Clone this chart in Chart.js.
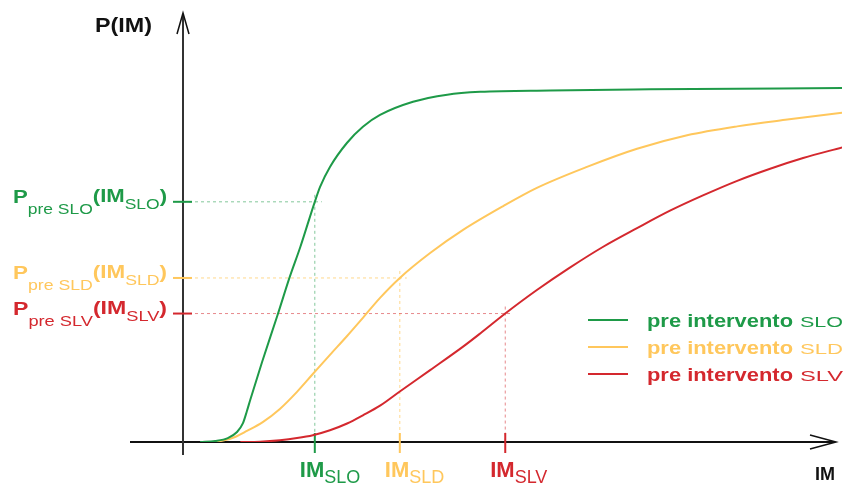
<!DOCTYPE html>
<html>
<head>
<meta charset="utf-8">
<script src="https://cdn.jsdelivr.net/npm/chart.js@4.4.0/dist/chart.umd.min.js"></script>
<style>
  html, body { margin: 0; padding: 0; background: #fff; }
  canvas { display: block; }
</style>
</head>
<body>
<canvas id="fragilityChart" width="844" height="488"></canvas>
<script>
const limitStates = ['SLO', 'SLD', 'SLV'];
const legendPrefix = 'pre intervento';
const yAxisTitle = 'P(IM)';
const xAxisTitle = 'IM';

// IM values and exceedance probabilities
const imSLO = [0.26, 0.49, 0.68, 0.82, 0.91, 0.97, 1.02, 1.20, 1.43, 1.62, 1.78, 2.00, 2.08, 2.23, 2.49, 2.73, 2.99, 3.49, 4.01, 4.51, 5.57, 7.09, 10];
const pSLO  = [0, 0.003, 0.011, 0.028, 0.053, 0.087, 0.118, 0.225, 0.354, 0.464, 0.548, 0.675, 0.717, 0.773, 0.841, 0.886, 0.919, 0.956, 0.976, 0.984, 0.988, 0.991, 0.995];

const imSLD = [0.46, 0.61, 0.79, 0.97, 1.21, 1.47, 1.73, 1.97, 2.23, 2.49, 2.73, 2.99, 3.29, 3.75, 4.25, 4.86, 5.37, 6.13, 6.89, 7.65, 8.41, 9.17, 10];
const pSLD  = [0, 0.004, 0.014, 0.031, 0.056, 0.093, 0.141, 0.191, 0.245, 0.298, 0.349, 0.405, 0.461, 0.531, 0.596, 0.663, 0.714, 0.773, 0.824, 0.862, 0.887, 0.906, 0.925];

const imSLV = [0.87, 1.17, 1.47, 1.73, 1.97, 2.23, 2.49, 2.73, 2.99, 3.29, 3.75, 4.25, 4.51, 4.89, 5.37, 5.87, 6.37, 6.89, 7.39, 7.89, 8.41, 8.91, 9.41, 10];
const pSLV  = [0, 0.001, 0.005, 0.011, 0.019, 0.033, 0.052, 0.075, 0.102, 0.142, 0.202, 0.268, 0.305, 0.361, 0.427, 0.490, 0.548, 0.601, 0.650, 0.693, 0.734, 0.768, 0.798, 0.828];

// IM_x and P_pre(IM_x) marked on the axes
const imMarks = [2.0, 3.29, 4.89];
const pMarks  = [0.675, 0.461, 0.361];

const lineColors  = ['#1e9a48', '#ffc75c', '#d4282e'];
const guideColors = ['rgba(30,154,72,0.55)', 'rgba(255,199,92,0.7)', 'rgba(212,40,46,0.55)'];
const FONT = '"Liberation Sans", Arial, sans-serif';

const curves = [[imSLO, pSLO], [imSLD, pSLD], [imSLV, pSLV]];

function runsWidth(ctx, runs) {
    let w = 0;
    runs.forEach(r => { ctx.font = r[1]; w += ctx.measureText(r[0]).width; });
    return w;
}

// draws text pieces side by side, stretched horizontally to width w
function drawRuns(ctx, runs, x, y, w) {
    const sx = w ? w / runsWidth(ctx, runs) : 1;
    ctx.save();
    ctx.translate(x, y);
    ctx.scale(sx, 1);
    let cx = 0;
    runs.forEach(r => {
        ctx.font = r[1];
        ctx.fillText(r[0], cx, r[2]);
        cx += ctx.measureText(r[0]).width;
    });
    ctx.restore();
}

function line(ctx, x1, y1, x2, y2) {
    ctx.beginPath();
    ctx.moveTo(x1, y1);
    ctx.lineTo(x2, y2);
    ctx.stroke();
}

const decor = {
    id: 'decor',
    beforeDatasetsDraw(chart) {
        const ctx = chart.ctx;
        const xs = chart.scales.x, ys = chart.scales.y;
        const x0 = xs.getPixelForValue(0), y0 = ys.getPixelForValue(0);
        ctx.save();
        // guides
        ctx.lineWidth = 1;
        ctx.setLineDash([3, 3]);
        limitStates.forEach((s, i) => {
            const gx = xs.getPixelForValue(imMarks[i]);
            const gy = ys.getPixelForValue(pMarks[i]);
            ctx.strokeStyle = guideColors[i];
            line(ctx, x0, gy, gx + 7, gy);
            line(ctx, gx, gy - 7, gx, y0);
        });
        ctx.setLineDash([]);
        // axes
        ctx.strokeStyle = '#111';
        ctx.lineWidth = 2;
        line(ctx, 130, y0, 835, y0);
        ctx.strokeStyle = '#333';
        line(ctx, x0, 455, x0, 15);
        ctx.lineWidth = 1.5;
        ctx.strokeStyle = '#111';
        ctx.beginPath();
        ctx.moveTo(810, y0 - 7); ctx.lineTo(836, y0); ctx.lineTo(810, y0 + 7);
        ctx.stroke();
        ctx.beginPath();
        ctx.moveTo(x0 - 6, 34); ctx.lineTo(x0, 13); ctx.lineTo(x0 + 6, 34);
        ctx.stroke();
        // ticks
        ctx.lineWidth = 2;
        limitStates.forEach((s, i) => {
            const gx = xs.getPixelForValue(imMarks[i]);
            const gy = ys.getPixelForValue(pMarks[i]);
            ctx.strokeStyle = lineColors[i];
            line(ctx, x0 - 10, gy, x0 + 9, gy);
            line(ctx, gx, y0 - 9, gx, y0 + 11);
        });
        ctx.restore();
    },
    afterDatasetsDraw(chart) {
        const ctx = chart.ctx;
        const xs = chart.scales.x, ys = chart.scales.y;
        ctx.save();
        ctx.textBaseline = 'alphabetic';
        limitStates.forEach((s, i) => {
            const gx = xs.getPixelForValue(imMarks[i]);
            const gy = ys.getPixelForValue(pMarks[i]);
            ctx.fillStyle = lineColors[i];
            // P_pre X(IM_X)
            drawRuns(ctx, [
                ['P', 'bold 19px ' + FONT, 0],
                ['pre ' + s, '15px ' + FONT, 11],
                ['(IM', 'bold 19px ' + FONT, -1],
                [s, '15px ' + FONT, 6],
                [')', 'bold 19px ' + FONT, -1]
            ], 13, gy + 1, 154);
            // IM_X
            drawRuns(ctx, [
                ['IM', 'bold 22px ' + FONT, 0],
                [s, '18px ' + FONT, 6]
            ], gx - 15, 477);
            // legend
            const ly = 320 + 27 * i;
            ctx.strokeStyle = lineColors[i];
            ctx.lineWidth = 2;
            line(ctx, 588, ly, 628, ly);
            drawRuns(ctx, [[legendPrefix, 'bold 19px ' + FONT, 0]], 647, ly + 7, 146);
            drawRuns(ctx, [[s, '15px ' + FONT, 0]], 800, ly + 7, 43);
        });
        ctx.fillStyle = '#111';
        drawRuns(ctx, [[yAxisTitle, 'bold 20px ' + FONT, 0]], 95, 32, 57);
        drawRuns(ctx, [[xAxisTitle, 'bold 18px ' + FONT, 0]], 815, 480);
        ctx.restore();
    }
};

new Chart(document.getElementById('fragilityChart').getContext('2d'), {
    type: 'line',
    data: {
        datasets: limitStates.map((s, i) => ({
            label: legendPrefix + ' ' + s,
            data: curves[i][0].map((im, k) => ({ x: im, y: curves[i][1][k] })),
            borderColor: lineColors[i],
            borderWidth: 2,
            pointRadius: 0,
            fill: false,
            cubicInterpolationMode: 'monotone'
        }))
    },
    options: {
        responsive: false,
        animation: false,
        devicePixelRatio: 1,
        layout: { padding: { left: 183, right: 2, top: 15, bottom: 46 } },
        scales: {
            x: { type: 'linear', min: 0, max: 10, display: false },
            y: { type: 'linear', min: 0, max: 1.2, display: false }
        },
        plugins: {
            legend: { display: false },
            tooltip: { enabled: false }
        }
    },
    plugins: [decor]
});
</script>
</body>
</html>
